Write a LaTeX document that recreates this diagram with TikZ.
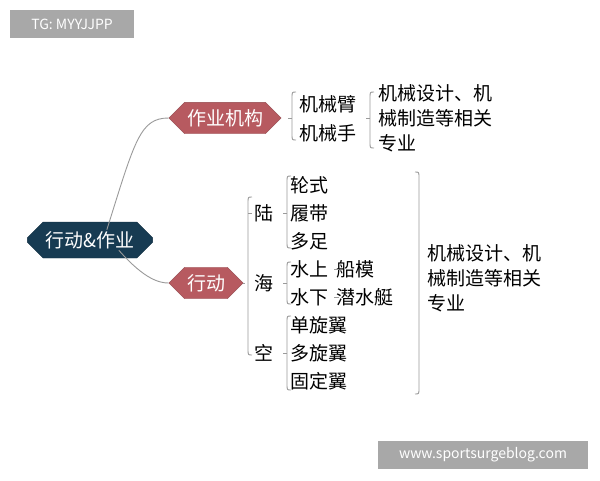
\documentclass[tikz,border=0pt]{standalone}
\usepackage{fontspec}
\setmainfont{Noto Sans CJK SC}
\usetikzlibrary{shapes.misc}
\definecolor{navy}{HTML}{173B52}
\definecolor{rose}{HTML}{B75A60}
\definecolor{ln}{HTML}{9A9A9A}
\definecolor{wm}{HTML}{A8A8A8}
\newcommand\mybrace[4]{% x, top, bottom, mid
  \draw[ln,line width=0.9pt] (#1+4,#2) .. controls (#1,#2) .. (#1,#2+6) -- (#1,#3-6) .. controls (#1,#3) .. (#1+4,#3);
  \draw[ln,line width=0.9pt] (#1-4,#4) -- (#1,#4);}
\begin{document}
\begin{tikzpicture}[x=1pt,y=-1pt,
  txt/.style={font=\fontsize{19}{22}\selectfont,inner sep=0pt,anchor=west,text=black},
  big/.style={font=\fontsize{19}{25}\selectfont,inner sep=0pt,anchor=north west,align=left,text=black},
  rbox/.style={chamfered rectangle,chamfered rectangle xsep=2cm,chamfered rectangle angle=45,fill=rose,draw=rose!80!black,text=white,font=\fontsize{19}{22}\selectfont,inner xsep=6pt,minimum height=30pt},
  link/.style={ln,line width=0.9pt},
  wmbox/.style={fill=wm,text=white,font=\fontsize{14}{16}\selectfont,inner sep=0pt}]
\useasboundingbox (0,0) rectangle (600,480);
\fill[white] (0,0) rectangle (600,480);
\node[wmbox,minimum width=124pt,minimum height=28pt] (wm1) at (72,24) {TG: MYYJJPP};
\node[wmbox,minimum width=210pt,minimum height=28pt] (wm2) at (483,455) {www.sportsurgeblog.com};

\node[rbox,fill=navy,draw=navy!80!black,minimum width=124pt,minimum height=36pt] (root) at (90,240) {行动\&作业};
\node[rbox,minimum width=100pt] (zy) at (225,118) {作业机构};
\node[rbox,minimum width=62pt] (xd) at (206,283) {行动};

\draw[link] (root.north east) ++(-38,0) coordinate (r1);
\draw[link] (r1) .. controls (135,140) and (140,118) .. (zy.west);
\draw[link] (root.south east) ++(-26,0) coordinate (r2);
\draw[link] (r2) .. controls (145,280) and (160,283) .. (xd.west);

% 作业机构 branch
\mybrace{292}{92}{140}{118}
\node[txt] (a1) at (299,104) {机械臂};
\node[txt] (a2) at (299,133) {机械手};
\mybrace{370}{92}{148}{118}
\node[big] (a3) at (378,84) {机械设计、机\\械制造等相关\\专业};

% 行动 branch
\draw[link] (xd.east) -- (245,283);
\draw[link] (252,197) .. controls (248,197) .. (248,203) -- (248,349) .. controls (248,355) .. (252,355);
\draw[link] (248,213) -- (252,213);
\node[txt] (l) at (254,213) {陆};
\node[txt] (h) at (254,283) {海};
\node[txt] (k) at (254,353) {空};

\mybrace{287}{176}{248}{213}
\node[txt] (l1) at (290,185) {轮式};
\node[txt] (l2) at (290,213) {履带};
\node[txt] (l3) at (290,241) {多足};

\mybrace{287}{262}{304}{283}
\node[txt] (h1) at (290,269) {水上};
\node[txt] (h2) at (290,297) {水下};
\node[txt] (h1b) at (336,269) {船模};
\node[txt] (h2b) at (336,297) {潜水艇};
\draw[link] (h1.east) ++(6,0) -- ++(5,0);
\draw[link] (h2.east) ++(6,0) -- ++(5,0);

\mybrace{287}{316}{390}{353}
\node[txt] (k1) at (290,325) {单旋翼};
\node[txt] (k2) at (290,353) {多旋翼};
\node[txt] (k3) at (290,381) {固定翼};

\draw[link] (415,172) .. controls (419,172) .. (419,178) -- (419,388) .. controls (419,394) .. (415,394);
\node[big] (b3) at (427,244) {机械设计、机\\械制造等相关\\专业};
\end{tikzpicture}
\end{document}
